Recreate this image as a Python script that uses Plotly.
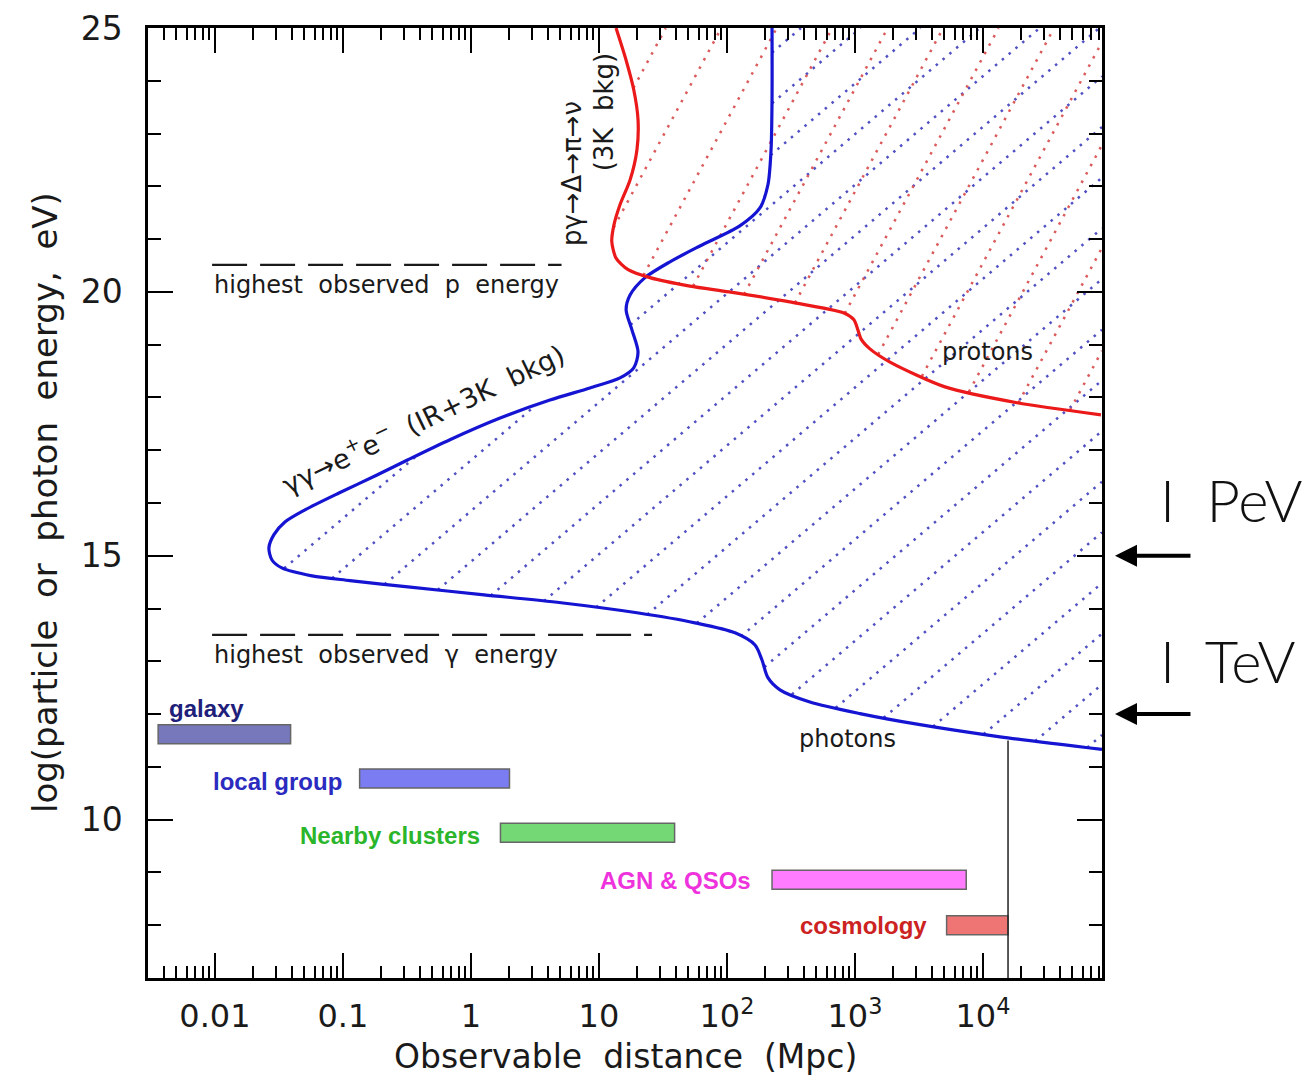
import numpy as np
import plotly.graph_objects as go

# ---------------- data ----------------
# photon horizon curve (gamma-gamma -> e+e-), distance in Mpc vs log10(E/eV)
photon_x = [225, 225, 221, 209, 181, 126, 61.5, 35.9, 22.9, 17.5, 16.3, 18.1, 20.2,
            18.7, 14.6, 8.5, 4.14, 1.69, 0.685, 0.322, 0.1845, 0.0931, 0.0505, 0.0352,
            0.0289, 0.0264, 0.0279, 0.0333, 0.0573, 0.1135, 0.322, 1.265, 5.05, 19.8,
            56.2, 115.6, 165.6, 187.5, 208.9, 259.4, 444.6, 1094, 3221, 13580, 85110]
photon_y = [25.0, 23.64, 22.69, 22.03, 21.59, 21.25, 20.87, 20.57, 20.27, 19.94, 19.66,
            19.28, 18.86, 18.56, 18.37, 18.18, 17.95, 17.61, 17.20, 16.82, 16.53, 16.19,
            15.87, 15.64, 15.40, 15.15, 14.92, 14.77, 14.62, 14.53, 14.41, 14.26, 14.11,
            13.92, 13.73, 13.54, 13.31, 13.03, 12.69, 12.46, 12.23, 12.01, 11.80, 11.57, 11.33]

# proton horizon curve (p gamma -> Delta -> pi -> nu)
proton_x = [13.6, 16.3, 18.7, 20.2, 19.8, 17.5, 14.6, 13.1, 12.6, 13.6, 16.9, 25.0,
            51.4, 103.8, 310, 820, 982, 1054, 1114, 1309, 1910, 5047, 18450, 83560]
proton_y = [25.0, 24.39, 23.83, 23.26, 22.69, 22.12, 21.65, 21.27, 20.95, 20.64, 20.42,
            20.27, 20.11, 20.0, 19.81, 19.60, 19.47, 19.28, 19.11, 18.92, 18.66, 18.20,
            17.90, 17.67]

# highest observed energies (dashed reference lines)
p_max_x = [0.0095, 5.1]
p_max_y = [20.51, 20.51]
g_max_x = [0.0095, 26]
g_max_y = [13.5, 13.5]

# distance-scale bars
scale_names = ["galaxy", "local group", "Nearby clusters", "AGN & QSOs", "cosmology"]
scale_start = [0.0036, 0.135, 1.7, 225, 5200]
scale_end = [0.039, 2.0, 39, 7400, 15700]
scale_y = [11.62, 10.78, 9.75, 8.86, 8.0]
scale_label_x = [0.0042, 0.0093, 0.0445, 9.8, 359]
scale_label_y = [12.10, 10.72, 9.70, 8.85, 7.99]

# horizon marker line
horizon_x = [15700, 15700]
horizon_y = [7, 11.5]

# axis ticks
x_tickvals = [0.01, 0.1, 1, 10, 100, 1000, 10000]
x_ticktext = ["0.01", "0.1", "1", "10", "10<sup>2</sup>", "10<sup>3</sup>", "10<sup>4</sup>"]
y_tickvals = [10, 15, 20, 25]
y_ticktext = ["10", "15", "20", "25"]

# ---------------- styling / geometry ----------------
LX0, LX1 = -2.523, 4.93
Y0, Y1 = 7, 25

bar_fill = ["#7777bb", "#7b7bf2", "#74d874", "#ff7bff", "#ef7575"]
label_col = ["#20207a", "#2b2bbf", "#2ab52a", "#ee33dd", "#cc2222"]
TXT = "DejaVu Sans"


def hatch(cx, cy, slope, c0, dc):
    """Diagonal hatch lines (in log-x / y space) for the area right of a curve."""
    lx_c = np.log10(np.array(cx, float))
    y_c = np.array(cy, float)
    order = np.argsort(y_c)
    y_s, lx_s = y_c[order], lx_c[order]
    ymin = y_s[0]
    grid = np.linspace(LX0, LX1, 4000)
    xs, ys = [], []
    cmin = Y0 - slope * LX1
    cmax = Y1 - slope * LX0
    k0 = int(np.floor((cmin - c0) / dc))
    k1 = int(np.ceil((cmax - c0) / dc))
    for k in range(k0, k1 + 1):
        c = c0 + k * dc
        yy = slope * grid + c
        inside = (yy >= ymin) & (yy <= Y1) & (yy >= Y0) & (grid > np.interp(yy, y_s, lx_s))
        if not inside.any():
            continue
        idx = np.flatnonzero(np.diff(np.concatenate([[0], inside.astype(int), [0]])))
        for a, b in zip(idx[::2], idx[1::2] - 1):
            if b <= a:
                continue
            xs += [10 ** grid[a], 10 ** grid[b], None]
            ys += [yy[a], yy[b], None]
    return xs, ys


fig = go.Figure()

# hatching
bx, by = hatch(photon_x, photon_y, 2.06, 11.048, 0.96)
fig.add_trace(go.Scatter(x=bx, y=by, mode="lines", hoverinfo="skip",
                         line=dict(color="rgb(80,80,195)", width=2.5, dash="2.5px,6.4px")))
rx, ry = hatch(proton_x, proton_y, 4.5, 0.6, 1.95)
fig.add_trace(go.Scatter(x=rx, y=ry, mode="lines", hoverinfo="skip",
                         line=dict(color="rgb(220,90,90)", width=2.5, dash="2.5px,7px")))

# dashed reference lines
for xx, yy in [(p_max_x, p_max_y), (g_max_x, g_max_y)]:
    fig.add_trace(go.Scatter(x=xx, y=yy, mode="lines", hoverinfo="skip",
                             line=dict(color="#1a1a1a", width=2.2, dash="35px,13px")))

# distance-scale bars
fig.add_trace(go.Bar(orientation="h", y=scale_y,
                     x=[e - s for s, e in zip(scale_start, scale_end)], base=scale_start,
                     width=0.36, marker=dict(color=bar_fill, line=dict(color="#666666", width=1.5)),
                     hoverinfo="skip"))

# horizon line
fig.add_trace(go.Scatter(x=horizon_x, y=horizon_y, mode="lines",
                         line=dict(color="#222222", width=1.5), hoverinfo="skip"))

# horizon curves
fig.add_trace(go.Scatter(x=photon_x, y=photon_y, mode="lines",
                         line=dict(color="rgb(20,20,210)", width=3.2, shape="spline", smoothing=0.8)))
fig.add_trace(go.Scatter(x=proton_x, y=proton_y, mode="lines",
                         line=dict(color="rgb(235,25,25)", width=3.2, shape="spline", smoothing=0.7)))

ann = []
# distance-scale labels
for t, x, y, c in zip(scale_names, scale_label_x, scale_label_y, label_col):
    ann.append(dict(x=np.log10(x), y=y, xref="x", yref="y", text=t, showarrow=False,
                    xanchor="left", yanchor="middle",
                    font=dict(family="Liberation Sans", size=24, color=c, weight="bold")))

txt_font = dict(family=TXT, size=24, color="#1a1a1a")
plain = [
    dict(x=np.log10(0.0095), y=20.13, text="highest  observed  p  energy", xanchor="left"),
    dict(x=np.log10(0.0095), y=13.12, text="highest  observed  γ  energy", xanchor="left"),
    dict(x=np.log10(0.42), y=17.62, text="γγ→e<sup>+</sup>e<sup>−</sup>  (IR+3K  bkg)",
         textangle=-25.6, font=dict(family=TXT, size=27, color="#1a1a1a")),
    dict(x=0.789, y=22.25, text="pγ→Δ→π→ν", textangle=-90,
         font=dict(family=TXT, size=26, color="#1a1a1a")),
    dict(x=1.035, y=23.41, text="(3K  bkg)", textangle=-90,
         font=dict(family=TXT, size=26, color="#1a1a1a")),
    dict(x=4.039, y=18.86, text="protons"),
    dict(x=2.945, y=11.52, text="photons"),
]
for a in plain:
    a.update(xref="x", yref="y", showarrow=False)
    a.setdefault("font", txt_font)
    a.setdefault("yanchor", "middle")
    ann.append(a)

# axis titles
ann.append(dict(x=0.5, y=-0.083, xref="paper", yref="paper", text="Observable  distance  (Mpc)",
                showarrow=False, xanchor="center", yanchor="middle",
                font=dict(family=TXT, size=33, color="#1a1a1a")))
ann.append(dict(x=-0.108, y=0.501, xref="paper", yref="paper",
                text="log(particle  or  photon  energy,  eV)", textangle=-90,
                showarrow=False, xanchor="center", yanchor="middle",
                font=dict(family=TXT, size=34, color="#1a1a1a")))

# PeV / TeV markers
for lab, ypaper, yval in [("I  PeV", 0.5032, 15), ("I  TeV", 0.3347, 12)]:
    ann.append(dict(x=1.0587, y=ypaper, xref="paper", yref="paper", text=lab, showarrow=False,
                    xanchor="left", yanchor="middle",
                    font=dict(family="Lato", size=58, color="#111111", weight=300)))
    ann.append(dict(x=1.0136, y=yval, xref="paper", yref="y", text="", showarrow=True,
                    ax=77, ay=0, arrowhead=2, arrowsize=1.1, arrowwidth=4, arrowcolor="black"))

minor_x = [m * 10.0 ** k for k in range(-3, 5) for m in range(2, 10)
           if LX0 < np.log10(m * 10.0 ** k) < LX1]
minor_y = [v for v in range(8, 25) if v not in y_tickvals]

axis_common = dict(showline=True, linecolor="black", linewidth=2.5, mirror="allticks",
                   ticks="inside", ticklen=25, tickwidth=2, tickcolor="black",
                   showgrid=False, zeroline=False, automargin=False)

fig.update_xaxes(type="log", range=[LX0, LX1], tickvals=x_tickvals, ticktext=x_ticktext,
                 tickfont=dict(family=TXT, size=32, color="#1a1a1a"), ticklabelstandoff=8,
                 minor=dict(tickvals=minor_x, ticks="inside", ticklen=12, tickwidth=1.6,
                            tickcolor="black", showgrid=False),
                 **axis_common)
fig.update_yaxes(range=[Y0, Y1], tickvals=y_tickvals, ticktext=y_ticktext,
                 tickfont=dict(family=TXT, size=33, color="#1a1a1a"), ticklabelstandoff=16,
                 minor=dict(tickvals=minor_y, ticks="inside", ticklen=13, tickwidth=2,
                            tickcolor="black", showgrid=False),
                 **axis_common)

# page body adds an 8px offset; size chosen so the plot area lands at x 148-1102, y 28-978
fig.update_layout(width=1299, height=1069, margin=dict(l=140, r=205, t=20, b=99),
                  plot_bgcolor="white", paper_bgcolor="white", showlegend=False,
                  barmode="overlay", annotations=ann)

fig.write_html("out.html")
